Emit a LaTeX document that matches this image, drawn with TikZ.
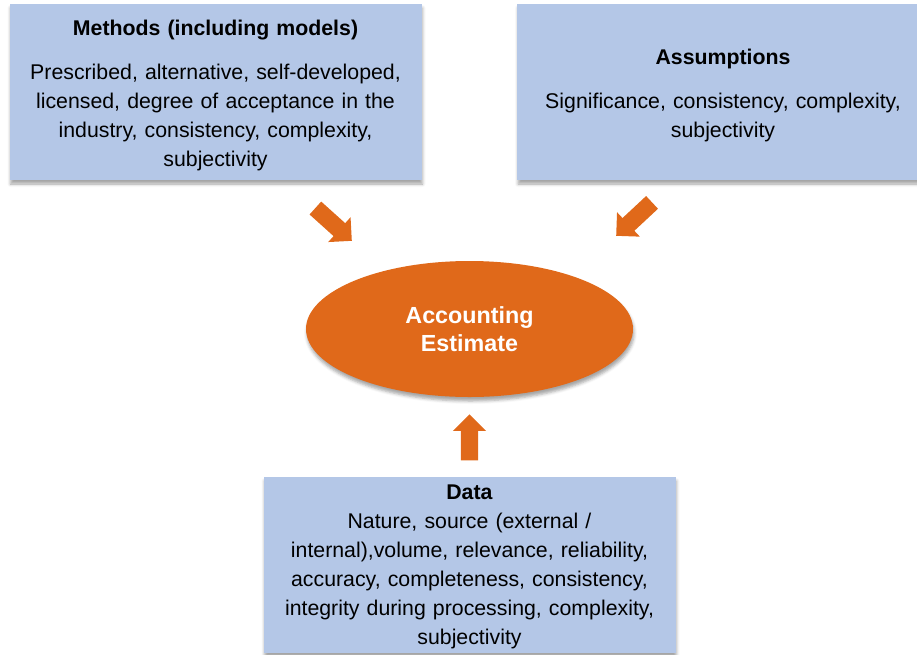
\documentclass[tikz,border=0pt]{standalone}
\usepackage{fontspec}
\setmainfont{Liberation Sans}
\usepackage{tikz}
\usetikzlibrary{shapes.geometric,shapes.arrows,shadows.blur}
\definecolor{BoxBlue}{HTML}{B4C7E7}
\definecolor{EstOrange}{HTML}{E0691A}

\begin{document}
\begin{tikzpicture}[x=1pt,y=-1pt,
        box/.style={fill=BoxBlue,minimum width=412pt,minimum height=176pt,
                    text width=404pt,align=center,inner sep=0pt,
                    font=\fontsize{21.3}{29}\selectfont,
                    blur shadow={shadow xshift=1pt,shadow yshift=-4pt,
                                 shadow blur radius=3pt,shadow opacity=35}},
        blockarrow/.style={single arrow,fill=EstOrange,inner xsep=0pt,
                    inner ysep=8.5pt,single arrow head extend=8pt,anchor=tip}]
  \useasboundingbox (0,0) rectangle (917,654);
  \node[box] (methods) at (215.5,92)
    {\rule{0pt}{21.5pt}\textbf{Methods (including models)}\\[15pt]
     Prescribed, alternative, self-developed,\\
     licensed, degree of acceptance in the\\
     industry, consistency, complexity,\\
     subjectivity};
  \node[box] (assump) at (723,92)
    {\rule{0pt}{21.5pt}\textbf{Assumptions}\\[15pt]
     Significance, consistency, complexity,\\
     subjectivity};
  \node[box] (data) at (469.5,565)
    {\rule{0pt}{17.5pt}\textbf{Data}\\
     Nature, source (external /\\
     internal),volume, relevance, reliability,\\
     accuracy, completeness, consistency,\\
     integrity during processing, complexity,\\
     subjectivity};
  \node[ellipse,fill=EstOrange,minimum width=327pt,minimum height=136pt,
        inner sep=0pt,text=white,align=center,
        font=\fontsize{23.3}{28}\selectfont\bfseries,
        blur shadow={shadow xshift=1pt,shadow yshift=-4pt,
                     shadow blur radius=3pt,shadow opacity=35}]
        (estimate) at (469.5,329) {Accounting\\Estimate};
  % block arrows pointing at the estimate
  \node[blockarrow,minimum height=49pt,rotate=-42] (arrMethods) at (352,241) {};
  \node[blockarrow,minimum height=49pt,rotate=-137] (arrAssump) at (616,236) {};
  \node[blockarrow,minimum height=46pt,rotate=90] (arrData) at (469.5,414) {};
\end{tikzpicture}
\end{document}
